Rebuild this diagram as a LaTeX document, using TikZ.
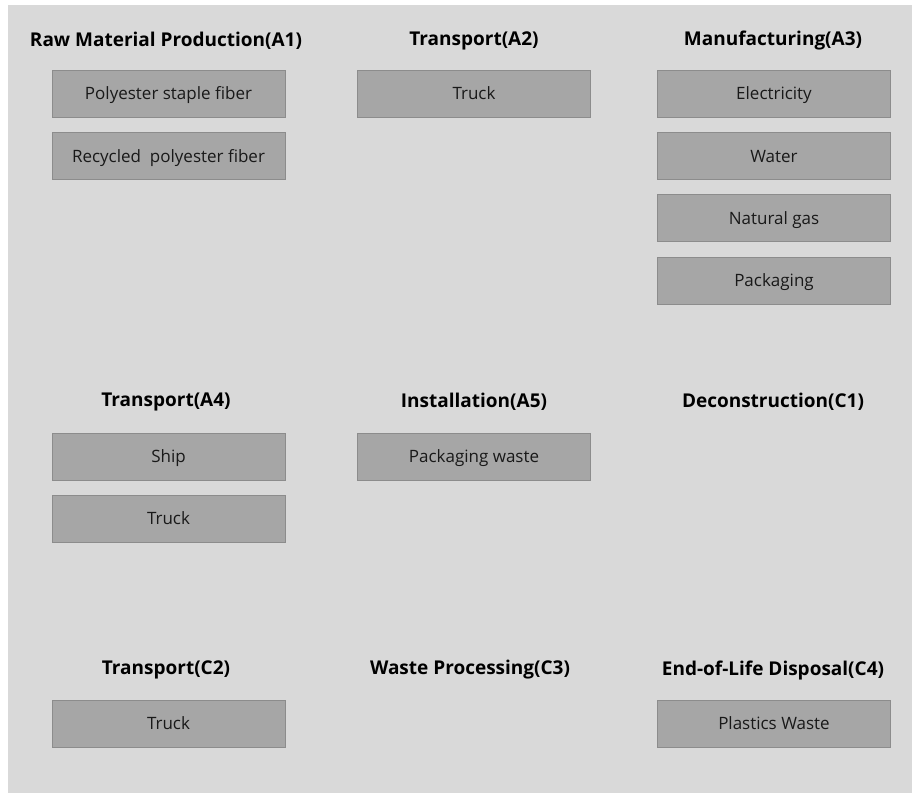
\documentclass[tikz,border=0pt]{standalone}
\usepackage{fontspec}
\setmainfont{Open Sans}
\definecolor{panelgray}{HTML}{D9D9D9}
\definecolor{boxgray}{HTML}{A6A6A6}
\definecolor{edgegray}{HTML}{8C8C8C}
\tikzset{
  stage/.style={font=\fontsize{19}{21}\selectfont\bfseries, text=black},
  flowbox/.style={draw=edgegray, line width=1pt, fill=boxgray, minimum width=233pt,
    minimum height=47pt, inner sep=0pt, text height=14pt, text depth=2pt,
    font=\fontsize{17}{19}\selectfont, text=black!90}
}
\begin{document}
\begin{tikzpicture}[x=1pt, y=-1pt]
      \useasboundingbox (0,0) rectangle (912,793);
      \fill[panelgray] (8,5) rectangle (912,793);
      % first row
      \node[stage] (a1) at (166,41) {Raw Material Production(A1)};
      \node[stage] (a2) at (474,41) {Transport(A2)};
      \node[stage] (a3) at (773,41) {Manufacturing(A3)};
      \node[flowbox] (psf) at (168.5,93.5) {Polyester staple fiber};
      \node[flowbox] (rpf) at (168.5,156) {Recycled\ \ polyester fiber};
      \node[flowbox] (truckA) at (474,93.5) {Truck};
      \node[flowbox] (elec) at (774,93.5) {Electricity};
      \node[flowbox] (water) at (774,156) {Water};
      \node[flowbox] (gas) at (774,218) {Natural gas};
      \node[flowbox] (pack) at (774,280.5) {Packaging};
      % second row
      \node[stage] (a4) at (166,402) {Transport(A4)};
      \node[stage] (a5) at (474,402) {Installation(A5)};
      \node[stage] (c1) at (773,402) {Deconstruction(C1)};
      \node[flowbox] (ship) at (168.5,456.5) {Ship};
      \node[flowbox] (truckB) at (168.5,518.5) {Truck};
      \node[flowbox] (pwaste) at (474,456.5) {Packaging waste};
      % third row
      \node[stage] (c2) at (166,670) {Transport(C2)};
      \node[stage] (c3) at (470,670) {Waste Processing(C3)};
      \node[stage] (c4) at (773,670) {End-of-Life Disposal(C4)};
      \node[flowbox] (truckC) at (168.5,723.5) {Truck};
      \node[flowbox] (plastic) at (774,723.5) {Plastics Waste};
    \end{tikzpicture}
\end{document}
